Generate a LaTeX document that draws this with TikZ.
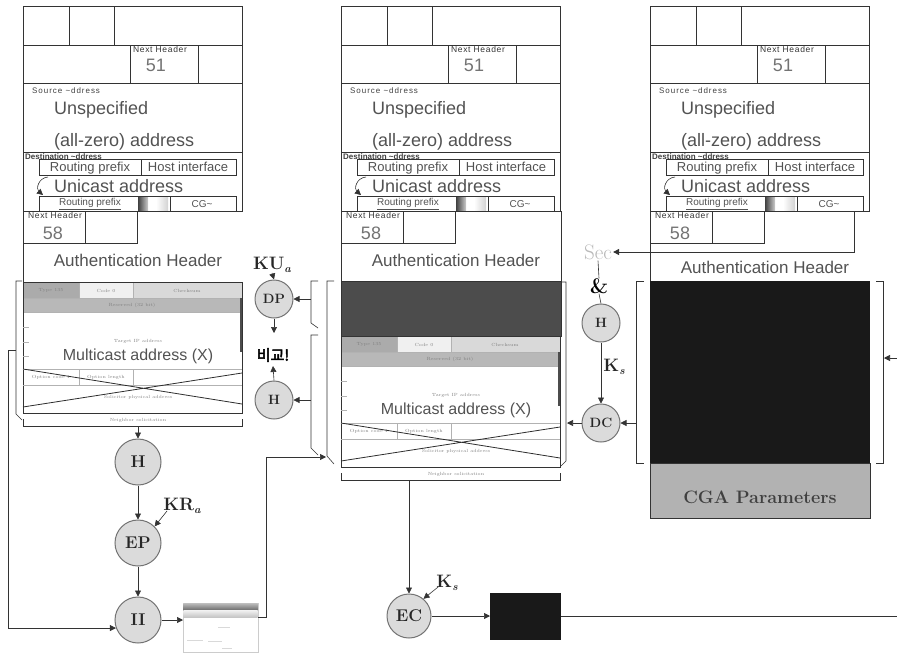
\documentclass[tikz,border=0pt]{standalone}
\usepackage{fontspec}
\setsansfont{Liberation Sans}
\newfontfamily\krfont[AutoFakeBold=3]{Noto Sans CJK KR}
\usetikzlibrary{arrows.meta,calc}
\definecolor{lnc}{gray}{0.2}
\definecolor{txc}{gray}{0.32}
\definecolor{numc}{gray}{0.45}
\definecolor{cfill}{gray}{0.86}
\definecolor{cdraw}{gray}{0.45}
\tikzset{
 pl/.style={draw=lnc, line width=0.6pt},
 tl/.style={draw=gray!60, line width=0.4pt},
 crossl/.style={draw=gray!35!black, line width=0.8pt},
 arr/.style={draw=lnc, line width=0.6pt, -{Triangle[length=6pt,width=6pt]}},
 circ/.style={circle, minimum size=46pt, inner sep=0pt, fill=cfill, draw=cdraw, line width=1pt, font=\bfseries\fontsize{17}{17}\selectfont, text=black!85},
 scirc/.style={circ, minimum size=38pt, font=\bfseries\fontsize{13.5}{13.5}\selectfont},
 bigt/.style={inner sep=0pt, font=\sffamily\fontsize{18}{18}\selectfont, text=txc},
 mct/.style={inner sep=0pt, font=\sffamily\fontsize{16}{16}\selectfont, text=txc},
 aht/.style={inner sep=0pt, font=\sffamily\fontsize{17}{17}\selectfont, text=txc},
 numt/.style={inner sep=0pt, font=\sffamily\fontsize{18}{18}\selectfont, text=numc},
 nht/.style={inner sep=0pt, font=\sffamily\fontsize{8.5}{8.5}\selectfont\addfontfeature{LetterSpace=8}, text=black!80},
 rpt/.style={inner sep=0pt, font=\sffamily\fontsize{13}{13}\selectfont, text=txc},
 rps/.style={inner sep=0pt, font=\sffamily\fontsize{10}{10}\selectfont, text=txc},
 smt/.style={inner sep=0pt, font=\sffamily\fontsize{8}{8}\selectfont\addfontfeature{LetterSpace=12}, text=black!75},
 tinyt/.style={inner sep=0pt, font=\fontsize{4.5}{4.5}\selectfont, text=gray},
 keyt/.style={inner sep=0pt, font=\bfseries\fontsize{18}{18}\selectfont, text=black!85},
}
\newcommand\subk[1]{\raisebox{-3pt}{\fontsize{11}{11}\selectfont\bfseries\itshape #1}}
\newcommand\pkthead[2]{%
\begin{scope}[shift={(#1,0)}]
\draw[pl] (23,6) rectangle (242,211);
\draw[pl] (23,45) -- (242,45) (23,83) -- (242,83) (23,152) -- (242,152)
  (69,6) -- (69,45) (114,6) -- (114,45) (130,45) -- (130,83) (198,45) -- (198,83);
\node[nht] (#2nh) at (160,49.5) {Next Header};
\node[numt] (#2v) at (156,65) {51};
\node[smt, anchor=west] (#2src) at (32,91) {Source \textasciitilde ddress};
\node[bigt, anchor=west] (#2un) at (54,110) {Unspecified};
\node[bigt, anchor=west] (#2az) at (54,142) {(all-zero) address};
\node[smt, anchor=west, font=\sffamily\bfseries\fontsize{8}{8}\selectfont] (#2dst) at (25,157) {Destination \textasciitilde ddress};
\draw[pl] (39,159) rectangle (236,175) (141,159) -- (141,175);
\node[rpt] (#2rp) at (90,168) {Routing prefix};
\node[rpt] (#2hi) at (188,167) {Host interface};
\node[bigt, anchor=west] (#2ua) at (54,186) {Unicast address};
\draw[arr] (48,177) .. controls (38,178) and (36,189) .. (43,195);
\shade[left color=black!75, right color=gray!40] (138,197) rectangle (148,210);
\shade[left color=white, right color=gray!35] (156,197) rectangle (168,210);
\draw[pl] (39,196) rectangle (236,211) (170,196) -- (170,211);
\node[rps] (#2rp2) at (90,204) {\underline{Routing prefix}};
\node[rps] (#2cg) at (202,204) {CG\textasciitilde};
\draw[pl] (23,211) -- (23,243) -- (137,243) -- (137,211) (85,211) -- (85,243);
\node[nht] (#2nh2) at (55,215) {Next Header};
\node[numt] (#2v2) at (53,233) {58};
\end{scope}}
\newcommand\icmpbox[3]{%
\begin{scope}[shift={(#1,#2)}]
\fill[black!33] (23,283) rectangle (79,298);
\fill[black!6] (79,283) rectangle (133,298);
\fill[black!15] (133,283) rectangle (242,298);
\fill[black!28] (23,298) rectangle (242,312);
\draw[tl] (23,298) -- (242,298) (79,283) -- (79,298) (133,283) -- (133,298) (23,312) -- (242,312);
\node[tinyt] (#3ty) at (51,290.5) {Type 135};
\node[tinyt] (#3co) at (106,290.5) {Code 0};
\node[tinyt] (#3ck) at (187,290.5) {Checksum};
\node[tinyt] (#3rs) at (132,305) {Reserved (32 bit)};
\draw[pl] (23,282) rectangle (242,413);
\draw[tl] (23,327) -- (29,327) (23,342) -- (29,342) (23,356) -- (29,356);
\node[tinyt] (#3tip) at (138,341) {Target IP address};
\node[mct] (#3mc) at (138,356) {Multicast address (X)};
\draw[tl] (23,369) -- (242,369) (23,385) -- (242,385) (79,369) -- (79,385) (133,369) -- (133,385);
\node[tinyt] (#3oc) at (51,377) {Option code 1};
\node[tinyt] (#3ol) at (106,377) {Option length};
\node[tinyt] (#3sp) at (138,397) {Solicitor physical address};
\draw[crossl] (23,369) -- (242,404) (23,407) -- (242,373);
\draw[line width=1.2pt, gray!60!black] (241,298) -- (241,352);
\draw[line width=1pt, lnc] (23,413) -- (242,413);
\node[tinyt] (#3ns) at (138,420) {Neighbor solicitation};
\draw[pl] (23,419) -- (23,426) -- (242,426) -- (242,419);
\end{scope}}
\begin{document}
\begin{tikzpicture}[x=1pt,y=-1pt]
\useasboundingbox (0,0) rectangle (897,654);
\pkthead{0}{a}
\pkthead{318}{b}
\pkthead{627}{c}
\node[aht] (ah1) at (138,260) {Authentication Header};
\node[aht] (ah2) at (456,260) {Authentication Header};
\node[aht] (ah3) at (765,267) {Authentication Header};
\draw[pl] (23,243) -- (23,282) (341,243) -- (341,281) (561,211) -- (561,281) (650,243) -- (650,281);
\icmpbox{0}{0}{a}
\fill[black!70] (341,281) rectangle (561,336);
\draw[pl] (341,281) rectangle (561,336);
\icmpbox{318}{54}{b}
% right column body
\fill[black!90] (650,281) rectangle (870,463);
\fill[black!30] (650,463) rectangle (870,518);
\draw[pl] (650,463) rectangle (870,518);
\node[font=\bfseries\fontsize{18}{18}\selectfont\addfontfeature{LetterSpace=8}, text=black!75] (cga) at (760,497) {CGA Parameters};
% brackets
\draw[pl] (22,281) -- (16,281) -- (16,414) -- (22,420);
\draw[pl] (334,281) -- (327,281) -- (327,456) -- (334,464);
\draw[pl] (318,281) -- (311,281) -- (311,323) -- (318,328);
\draw[pl] (318,335) -- (311,335) -- (311,448) -- (318,455);
\draw[pl] (561,282) -- (566,282) -- (566,461) -- (561,466);
\draw[pl] (644,281) -- (636,281) -- (636,463) -- (644,463);
\draw[pl] (876,281) -- (883,281) -- (883,463) -- (876,463);
\coordinate (b1) at (16,350);
\coordinate (bDP) at (311,299);
\coordinate (bH2) at (311,400);
\coordinate (bL2) at (326,457);
\coordinate (bR2) at (567,423);
\coordinate (bL3) at (636,423);
\coordinate (bR3) at (884,358);
\coordinate (rin) at (897,358);
\coordinate (lb1) at (138,426);
\coordinate (lb2) at (409,480);
\coordinate (cgout) at (854,211);
\coordinate (rout) at (897,616);
% circles
\node[circ] (H1) at (138,462) {H};
\node[circ] (EP) at (138,543) {EP};
\node[circ] (II) at (138,620) {II};
\node[scirc] (DP) at (274,299) {DP};
\node[scirc] (H2) at (274,400) {H};
\node[scirc] (H3) at (601,323) {H};
\node[scirc] (DC) at (601,423) {DC};
\node[circ, minimum size=44pt] (EC) at (409,616) {EC};
% left chain
\draw[arr] (lb1) -- (H1);
\draw[arr] (H1) -- (EP);
\draw[arr] (EP) -- (II);
\draw[arr] (b1) -- (8,350) |- (II.200);
\node[keyt] (KRa) at (182,506) {KR\subk{a}};
\draw[arr] ([xshift=4pt,yshift=3pt]KRa.south west) -- (EP.45);
\node[draw=gray!40, minimum width=75pt, minimum height=49pt, inner sep=0pt, anchor=north west] (img) at (183,603) {};
\shade[top color=gray!55, bottom color=gray!85!black] (183.5,603.5) rectangle (257.5,610);
\shade[top color=gray!10, bottom color=gray!45] (183.5,610) rectangle (257.5,617);
\draw[gray!30, line width=0.5pt] (218,627) -- (230,627) (187,640) -- (203,640) (208,641) -- (222,641) (222,648) -- (232,648);
\draw[arr] (II.east) -- (II.east -| img.west);
\draw[arr] ($(img.north east)+(0,14)$) -- (266,617) -- (266,457) -- (bL2);
% middle
\node[keyt] (KUa) at (272,265) {KU\subk{a}};
\draw[arr] (KUa.south) -- (DP.north);
\coordinate (dpdn) at (274,333);
\draw[arr] (DP.south) -- (dpdn);
\node[font=\krfont\bfseries\fontsize{15}{15}\selectfont, inner sep=0pt] (cmp) at (273,355) {비교!};
\draw[arr] (H2.north) -- ([yshift=-4pt]cmp.south);
\draw[arr] (bDP) -- (DP.east);
\draw[arr] (bH2) -- (H2.east);
% right
\node[font=\fontsize{21}{21}\selectfont, text=gray!55, inner sep=1pt] (sec) at (598,252) {Sec};
\draw[arr] (cgout) |- (sec.east);
\node[font=\bfseries\fontsize{21}{21}\selectfont, inner sep=0pt] (amp) at (599,286) {\&};
\draw[pl] (sec.south) -- (amp.north) (amp.south) -- (H3.north);
\draw[arr] (H3) -- (DC);
\node[keyt] (Ks1) at (614,367) {K\subk{s}};
\draw[arr] (DC.west) -- (bR2);
\draw[arr] (bL3) -- (DC.east);
\draw[arr] (rin) -- (bR3);
% bottom
\draw[arr] (lb2) -- (EC);
\node[fill=black!90, minimum width=71pt, minimum height=47pt, inner sep=0pt, anchor=west] (bbox) at (490,616) {};
\draw[arr] (EC.east) -- (EC.east -| bbox.west);
\draw[pl] (bbox.east) -- (bbox.east -| rout);
\node[keyt] (Ks2) at (447,583) {K\subk{s}};
\draw[arr] ([xshift=2pt,yshift=4pt]Ks2.south west) -- (EC.50);
\end{tikzpicture}
\end{document}
